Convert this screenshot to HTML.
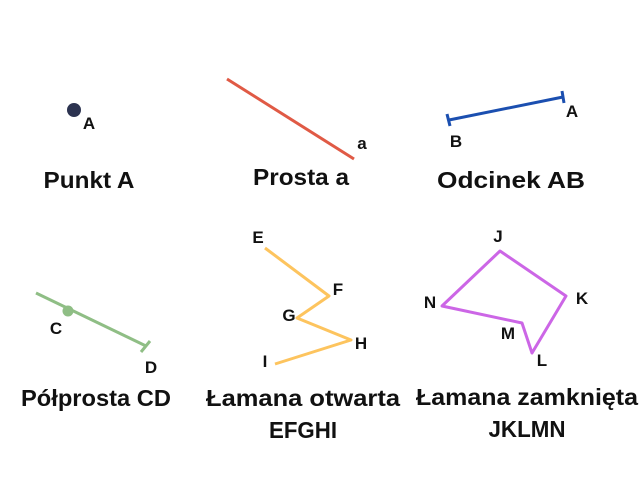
<!DOCTYPE html>
<html><head><meta charset="utf-8"><style>
html,body{margin:0;padding:0;background:#fff;}
svg{display:block;}
text{font-family:"Liberation Sans",sans-serif;font-weight:bold;fill:#111;text-anchor:middle;}
.t{font-size:23px;}
.l{font-size:17px;}
</style></head><body>
<svg width="640" height="480" viewBox="0 0 640 480">
<circle cx="74" cy="110" r="7" fill="#2c3350"/>
<text class="l" x="89" y="129">A</text>
<text class="t" x="89" y="188" textLength="91" lengthAdjust="spacingAndGlyphs">Punkt A</text>

<line x1="227" y1="79" x2="354" y2="159" stroke="#e05a45" stroke-width="3"/>
<text class="l" x="362" y="149">a</text>
<text class="t" x="301" y="185" textLength="96" lengthAdjust="spacingAndGlyphs">Prosta a</text>

<line x1="449" y1="120" x2="563" y2="97" stroke="#1b4fb0" stroke-width="3"/>
<line x1="447" y1="114" x2="450" y2="126" stroke="#1b4fb0" stroke-width="3"/>
<line x1="562" y1="91" x2="564" y2="103" stroke="#1b4fb0" stroke-width="3"/>
<text class="l" x="572" y="117">A</text>
<text class="l" x="456" y="147">B</text>
<text class="t" x="511" y="188" textLength="148" lengthAdjust="spacingAndGlyphs">Odcinek AB</text>

<line x1="36" y1="293" x2="146" y2="346" stroke="#8fbe85" stroke-width="3"/>
<line x1="141" y1="352" x2="150" y2="341" stroke="#8fbe85" stroke-width="3"/>
<circle cx="68" cy="311" r="5.5" fill="#8fbe85"/>
<text class="l" x="56" y="334">C</text>
<text class="l" x="151" y="373">D</text>
<text class="t" x="96" y="406" textLength="150" lengthAdjust="spacingAndGlyphs">Półprosta CD</text>

<polyline points="265,248 329,296 297,318 351,340 275,364" fill="none" stroke="#fdc45e" stroke-width="3" stroke-linejoin="round"/>
<text class="l" x="258" y="243">E</text>
<text class="l" x="338" y="295">F</text>
<text class="l" x="289" y="321">G</text>
<text class="l" x="361" y="349">H</text>
<text class="l" x="265" y="367">I</text>
<text class="t" x="303" y="406" textLength="194" lengthAdjust="spacingAndGlyphs">Łamana otwarta</text>
<text class="t" x="303" y="438" textLength="68" lengthAdjust="spacingAndGlyphs">EFGHI</text>

<polygon points="500,251 566,296 532,353 522,323 442,306" fill="none" stroke="#cc66e6" stroke-width="3" stroke-linejoin="round"/>
<text class="l" x="498" y="242">J</text>
<text class="l" x="582" y="304">K</text>
<text class="l" x="430" y="308">N</text>
<text class="l" x="508" y="339">M</text>
<text class="l" x="542" y="366">L</text>
<text class="t" x="527" y="405" textLength="222" lengthAdjust="spacingAndGlyphs">Łamana zamknięta</text>
<text class="t" x="527" y="437" textLength="77" lengthAdjust="spacingAndGlyphs">JKLMN</text>
</svg>
</body></html>
